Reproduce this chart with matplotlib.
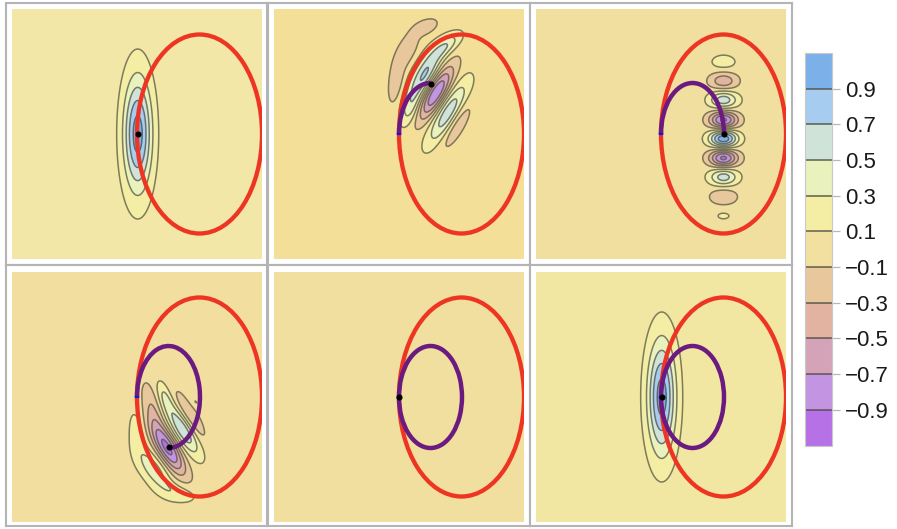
import numpy as np
import matplotlib
matplotlib.use("Agg")
import matplotlib.pyplot as plt
from matplotlib.cm import ScalarMappable
from matplotlib.colors import BoundaryNorm, ListedColormap
from matplotlib.patches import Arc, Ellipse

plt.rcParams["font.family"] = ["Liberation Sans", "DejaVu Sans"]

W, H = 897, 529

# contour levels and colour bands, bottom to top
levels = [-1.1, -0.9, -0.7, -0.5, -0.3, -0.1, 0.1, 0.3, 0.5, 0.7, 0.9, 1.1]
band_colors = ["#B771E6", "#C394E1", "#D5A3B8", "#E3B3A1", "#E9C79C", "#F2E0A0",
               "#F4EEA4", "#E9F1BC", "#D0E3D9", "#A6CDEF", "#7BB1E8"]
bar_ticks = [-0.9, -0.7, -0.5, -0.3, -0.1, 0.1, 0.3, 0.5, 0.7, 0.9]
bar_labels = ["\u22120.9", "\u22120.7", "\u22120.5", "\u22120.3", "\u22120.1",
              "0.1", "0.3", "0.5", "0.7", "0.9"]

# lobes: x, y, amplitude, long sigma, short sigma, angle
p1_lobes = [(0.7, 0, 1.0, 39.6, 9.8, 90)]
p2_lobes = [(37, 41, -0.92, 21, 7, 60),
            (49, 21, 0.66, 24, 7.5, 60),
            (57, 9, -0.29, 20, 6, 60),
            (26, 60, 0.73, 20, 7.5, 60),
            (12, 26, 0.36, 14, 6, 72),
            (47, 88, 0.4, 13, 5.5, 40),
            (-3, 52, -0.26, 16, 5, 82),
            (8, 84, -0.27, 14, 6, 65),
            (27, 107, -0.25, 9, 5, 25)]
p3_lobes = [(62.5, 72, 0.2, 5.8, 9.8, 90),
            (62.5, 53, -0.44, 6, 9.8, 90),
            (62.5, 34, 0.62, 6, 9.8, 90),
            (62.5, 14, -0.95, 6, 9.8, 90),
            (62.5, -4.7, 1.05, 6, 9.8, 90),
            (62.5, -24, -0.95, 6, 9.8, 90),
            (62.5, -43, 0.6, 6, 9.8, 90),
            (62.5, -62.7, -0.28, 6, 9.8, 90),
            (62.5, -81.7, 0.118, 5.4, 9.8, 90)]
p4_lobes = [(31, -52, -0.95, 20, 7, -60),
            (16, -14, -0.3, 20, 6, -76),
            (46, -32, 0.72, 20, 7, -60),
            (28, 0, 0.28, 12, 4.5, -70),
            (52, -20, -0.36, 20, 6, -60),
            (58, -5, 0.13, 8, 3, -50),
            (0, -36, 0.2, 18, 6, -85),
            (17, -73, 0.42, 17, 8, -55),
            (42, -96, 0.22, 14, 6.5, -15)]
p5_lobes = []
p6_lobes = [(0.7, 0, 1.0, 39.6, 9.8, 90)]
panel_lobes = [p1_lobes, p2_lobes, p3_lobes, p4_lobes, p5_lobes, p6_lobes]

panel_bg = ["#F2E7A6", "#F3DF97", "#F0DF9F", "#F2DFA0", "#F0DF9F", "#F2E6A3"]

# how far the orbit has gone round, and where the black point sits
orbit_sweep = [0, 90, 180, 270, 360, 360]
dot_x = [0.7, 31.7, 62.5, 32, 0, 0.7]
dot_y = [0, 50, 0, -49.7, 0, 0]

frame_x = [6, 268, 530]
frame_w = [261, 262, 262]
frame_y = [3, 265]
frame_h = [262, 261]
panel_x = [12, 274, 536]
panel_y = [9, 272]


def px_axes(fig, x, y, w, h):
    return fig.add_axes([x / W, 1 - (y + h) / H, w / W, h / H])


def lobe_field(lobes, X, Y):
    Z = np.zeros_like(X)
    for x0, y0, amp, s_long, s_short, angle in lobes:
        a = np.radians(angle)
        u = (X - x0) * np.cos(a) + (Y - y0) * np.sin(a)
        v = -(X - x0) * np.sin(a) + (Y - y0) * np.cos(a)
        Z += amp * np.exp(-u**2 / (2 * s_long**2) - v**2 / (2 * s_short**2))
    return Z


fig = plt.figure(figsize=(W / 100, H / 100), dpi=100)

gx = np.linspace(-125, 125, 700)
gy = np.linspace(-125, 125, 700)
X, Y = np.meshgrid(gx, gy)

for i in range(6):
    col, row = i % 3, i // 3

    frame = px_axes(fig, frame_x[col], frame_y[row], frame_w[col], frame_h[row])
    frame.set_xticks([])
    frame.set_yticks([])
    for s in frame.spines.values():
        s.set_color("#B4B4B4")
        s.set_linewidth(1.5)

    ax = px_axes(fig, panel_x[col], panel_y[row], 250, 250)
    ax.set_facecolor(panel_bg[i])
    ax.set_xlim(-125, 125)
    ax.set_ylim(-125, 125)
    ax.axis("off")
    ax.add_patch(plt.Rectangle((-125, -125), 250, 250, color=panel_bg[i], zorder=0))

    colors = list(band_colors)
    colors[5] = panel_bg[i]
    if panel_lobes[i]:
        Z = lobe_field(panel_lobes[i], X, Y)
        ax.contourf(X, Y, Z, levels=levels, colors=colors, zorder=1)
        ax.contour(X, Y, Z, levels=bar_ticks, colors="#4A4A3C", linewidths=1.1,
                   linestyles="solid", alpha=0.7, zorder=2)

    ax.add_patch(Ellipse((62.5, 0), 125, 199, fill=False, ec="#EE3524", lw=3.1, zorder=3))
    if orbit_sweep[i] > 0:
        ax.add_patch(Arc((31.5, 0), 63, 102, theta1=180 - orbit_sweep[i], theta2=180,
                         ec="#6B1B80", lw=3.2, zorder=4))
        ax.add_patch(Arc((31.5, 0), 63, 102, theta1=178, theta2=182,
                         ec="#1414E6", lw=3.2, zorder=5))
    ax.plot(dot_x[i], dot_y[i], "o", color="black", ms=4.4, mew=0, zorder=6)

# colour bar
cax = px_axes(fig, 805, 53, 27, 392.5)
sm = ScalarMappable(norm=BoundaryNorm(levels, len(band_colors)),
                    cmap=ListedColormap(band_colors))
cb = fig.colorbar(sm, cax=cax, ticks=bar_ticks, spacing="proportional")
cb.ax.set_yticklabels(bar_labels)
cb.ax.tick_params(length=5.8, width=0.9, color="#B8B8B8", labelsize=16, pad=3.5,
                  labelcolor="#1A1A1A")
cb.ax.minorticks_off()
cb.outline.set_edgecolor("#C8C8C8")
cb.outline.set_linewidth(0.8)
cb.ax.hlines(bar_ticks, 0, 1, colors="#4A4A3C", linewidths=1.2, alpha=0.8,
             transform=cb.ax.get_yaxis_transform())

fig.savefig("out.png", dpi=100)
